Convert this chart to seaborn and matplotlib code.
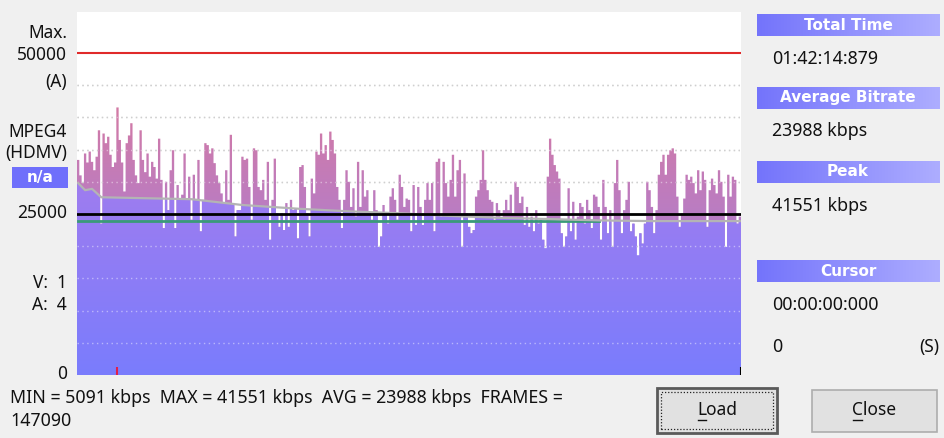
import numpy as np
import seaborn as sns
from matplotlib import pyplot as plt
from matplotlib.path import Path
from matplotlib.patches import PathPatch, Rectangle
from matplotlib.lines import Line2D
from matplotlib.colors import LinearSegmentedColormap

# bitrate per time slice (kbps / 1000), left to right
bitrate_k = [
    33.4, 31.0, 29.8, 34.4, 33.0, 34.7, 33.1, 31.8, 33.9, 38.0, 23.5, 37.5, 36.0, 37.0, 34.2, 32.3,
    33.0, 41.55, 36.5, 33.0, 28.5, 36.0, 37.2, 39.1, 33.4, 31.0, 29.8, 38.0, 33.4, 31.5, 34.4, 30.8,
    33.1, 32.3, 30.5, 36.7, 30.3, 22.8, 30.0, 25.6, 31.8, 34.9, 22.8, 29.5, 27.2, 28.0,
    34.4, 27.2, 30.8, 24.1, 31.1, 27.2, 33.4, 22.3, 27.2, 36.0, 35.7, 34.4, 35.2, 32.9, 31.0, 29.8,
    28.2, 26.7, 31.8, 27.2, 37.3, 26.7, 21.5, 25.6, 25.6, 33.9, 33.4, 33.6, 29.2, 24.1, 35.2, 34.9,
    29.2, 28.7, 30.3, 27.2, 33.1, 21.0, 27.2, 33.6, 25.1, 23.0, 25.1, 22.5, 26.7,
    23.0, 27.2, 25.6, 25.9, 21.2, 32.3, 32.6, 29.2, 25.1, 21.5, 30.5, 28.2, 34.7, 34.2, 37.5, 34.4,
    35.7, 33.4, 37.8, 36.5, 34.4, 29.2, 27.2, 22.8, 27.2, 31.8, 30.0, 26.1, 29.0, 24.6, 33.1, 26.1,
    31.8, 27.7, 28.7, 25.1, 24.1, 28.7, 25.6, 19.9, 21.5, 26.4, 25.1, 23.5, 27.7, 29.0, 27.2,
    24.1, 31.1, 29.2, 26.1, 27.4, 27.2, 22.3, 29.5, 23.3, 29.2, 26.1, 23.3, 27.2, 29.8, 27.2, 29.8,
    22.3, 33.1, 33.6, 24.6, 33.1, 29.8, 27.7, 30.3, 34.2, 27.7, 31.8, 33.4, 19.9, 31.3, 25.1, 23.0,
    22.0, 22.5, 27.7, 28.7, 30.3, 34.9, 30.3, 28.7, 27.2, 26.9, 24.1, 26.7, 25.6, 24.3, 25.6, 27.2,
    25.6, 28.0, 25.1, 30.0, 29.2, 26.7, 27.7, 23.3, 26.1, 23.0, 24.6, 22.3, 25.6, 23.5, 24.1, 21.0,
    19.7, 30.8, 36.7, 34.2, 32.6, 31.6, 30.5, 22.0, 19.9, 21.5, 29.0, 22.3, 26.9, 21.0, 24.6, 26.7,
    26.1, 23.5, 27.2, 25.6, 22.8, 28.0, 27.7, 26.1, 21.0, 30.3, 26.1, 22.0, 25.6, 19.9, 29.8, 33.4,
    28.7, 22.0, 25.6, 27.2,
    30.0, 22.3, 23.5, 21.5, 18.6, 22.0, 20.4, 23.5, 30.0, 28.7, 26.1, 22.0, 25.6, 31.1, 33.1, 34.2,
    31.1, 34.2, 34.9, 35.2, 34.4, 27.7, 23.0, 25.1, 27.4, 31.1, 30.3, 30.8, 29.8, 28.2, 31.8, 28.7,
    31.6, 30.3, 23.0, 28.7, 30.5, 29.5, 28.2, 31.8, 30.0, 27.7, 19.9, 31.1, 27.7, 30.8, 30.3, 23.5,
    24.6,
]
# running average (grey line), at slice index
run_idx = [0, 3, 6, 10, 23, 49, 71, 96, 118, 140, 161, 183, 205, 226, 248, 286]
run_k = [29.8, 28.7, 28.9, 27.6, 27.5, 27.3, 26.4, 25.8, 25.4, 25.1, 24.7, 24.4, 24.2, 24.0, 23.9, 23.9]

max_kbps = 50000
ref_kbps = 25000
avg_kbps = 23988
green_end = 225
cursor_idx = 17

left_labels = ["Max.", "50000", "(A)", "MPEG4", "(HDMV)", "25000", "V:  1", "A:  4", "0"]
left_label_y = [33, 55, 82, 132, 153, 213, 283, 305, 374]
panel_headers = ["Total Time", "Average Bitrate", "Peak", "Cursor"]
panel_header_y = [25, 98, 172, 271]
panel_values = ["01:42:14:879", "23988 kbps", "41551 kbps", "00:00:00:000", "0"]
panel_value_y = [59, 131, 206, 305, 347]
stats_line1 = "MIN = 5091 kbps  MAX = 41551 kbps  AVG = 23988 kbps  FRAMES ="
stats_line2 = "147090"

plt.rcParams['font.family'] = ['Noto Sans', 'DejaVu Sans']

W, H = 945, 438
def fx(px):
    return px / W
def fy(py):
    return 1 - py / H

vals = np.array(bitrate_k) * 1000
n = len(vals)
t = np.arange(n)
run = np.interp(t, run_idx, np.array(run_k) * 1000)

fig = plt.figure(figsize=(W / 100, H / 100), dpi=100, facecolor='#f0f0f0')
ax = fig.add_axes([fx(77), fy(375), (741 - 77) / W, (375 - 12) / H])
ax.set_facecolor('white')

# pink (full value) and purple (up to running average) layers
sns.barplot(x=t, y=vals, color='#c77fb5', width=1.0, saturation=1, linewidth=0, ax=ax)
pink_bars = list(ax.patches)
sns.barplot(x=t, y=np.minimum(vals, run), color='#8a7df8', width=1.0, saturation=1, linewidth=0, ax=ax)
purple_bars = list(ax.patches)[len(pink_bars):]


def gradient_fill(bars, c0, c1, y0, y1, z):
    paths = [b.get_path().transformed(b.get_patch_transform()) for b in bars]
    clip = PathPatch(Path.make_compound_path(*paths), transform=ax.transData, fc='none', ec='none')
    cmap = LinearSegmentedColormap.from_list('g', [c0, c1])
    grad = np.linspace(0, 1, 256).reshape(-1, 1)
    im = ax.imshow(grad, cmap=cmap, extent=[-0.5, n - 0.5, y0, y1], origin='lower',
                   aspect='auto', zorder=z, interpolation='bilinear')
    im.set_clip_path(clip)
    for b in bars:
        b.set_visible(False)


gradient_fill(pink_bars, '#b27dcc', '#d47aa4', 20000, 42000, 1)
gradient_fill(purple_bars, '#7a7dfd', '#9f7cef', 0, 30000, 2)

# dotted grid
for lev in range(5000, max_kbps, 5000):
    if lev == ref_kbps:
        continue
    ax.axhline(lev, color='#a8a8a8', lw=1, ls=(0, (1, 2.5)), zorder=0.5)
    ax.axhline(lev, color='white', lw=1, ls=(0, (1, 2.5)), alpha=0.45, zorder=3)

ax.axhline(max_kbps, color='#e02a2a', lw=1.5, zorder=4)
ax.plot([0, green_end], [avg_kbps, avg_kbps], color='#3a9a78', lw=2, zorder=4)
ax.plot(run_idx, np.array(run_k) * 1000, color='#b4b4b4', lw=1.6, zorder=4)
ax.axhline(ref_kbps, color='black', lw=2, zorder=5)
ax.vlines(cursor_idx, 0, 1200, color='#e0204a', lw=1.5, zorder=5)
ax.vlines(n - 0.5, 0, 1200, color='black', lw=1.5, zorder=5)

ax.set_xlim(-0.5, n - 0.5)
ax.set_ylim(0, 56370)
ax.set_xticks([])
ax.set_yticks([])
ax.set_xlabel('')
ax.set_ylabel('')
for s in ax.spines.values():
    s.set_visible(False)

fs = 12.5
bold = dict(family='DejaVu Sans', fontweight='bold', fontsize=11, color='white')
# left labels
for lab, py in zip(left_labels, left_label_y):
    fig.text(fx(67), fy(py), lab, ha='right', va='center', fontsize=fs, color='#111111')
fig.add_artist(Rectangle((fx(12), fy(188)), (68 - 12) / W, (188 - 167) / H,
                         transform=fig.transFigure, fc='#6f6ffb', ec='none'))
fig.text(fx(40), fy(177.5), 'n/a', ha='center', va='center', **bold)

# stats text under the chart
fig.text(fx(10), fy(398), stats_line1, ha='left', va='center', fontsize=fs + 0.3, color='#111111')
fig.text(fx(10), fy(421), stats_line2, ha='left', va='center', fontsize=fs + 0.3, color='#111111')

# right panel
hcmap = LinearSegmentedColormap.from_list('h', ['#7474fb', '#adadff'])
for lab, py in zip(panel_headers, panel_header_y):
    hax = fig.add_axes([fx(757), fy(py + 11), (940 - 757) / W, 22 / H])
    hax.imshow(np.linspace(0, 1, 64).reshape(1, -1), cmap=hcmap, aspect='auto')
    hax.set_axis_off()
    fig.text(fx(848), fy(py), lab, ha='center', va='center', **bold)
for val, py in zip(panel_values, panel_value_y):
    fig.text(fx(772), fy(py), val, ha='left', va='center', fontsize=fs + 0.3, color='#111111')
fig.text(fx(939), fy(347), '(S)', ha='right', va='center', fontsize=fs, color='#111111')

# buttons
fig.add_artist(Rectangle((fx(657), fy(433)), 120 / W, 45 / H, transform=fig.transFigure,
                         fc='#e1e1e1', ec='#5a5a5a', lw=2))
fig.add_artist(Rectangle((fx(661), fy(429)), 112 / W, 37 / H, transform=fig.transFigure,
                         fc='none', ec='#222222', lw=0.9, ls=(0, (1, 1.5))))
fig.add_artist(Rectangle((fx(812), fy(432)), 125 / W, 42 / H, transform=fig.transFigure,
                         fc='#e1e1e1', ec='#adadad', lw=1.2))
fig.text(fx(717), fy(410), 'Load', ha='center', va='center', fontsize=fs, color='#111111')
fig.text(fx(874), fy(410), 'Close', ha='center', va='center', fontsize=fs, color='#111111')
fig.add_artist(Line2D([fx(698), fx(706)], [fy(419.5), fy(419.5)], transform=fig.transFigure,
                      color='#111111', lw=1))
fig.add_artist(Line2D([fx(853), fx(862)], [fy(419.5), fy(419.5)], transform=fig.transFigure,
                      color='#111111', lw=1))

fig.savefig('out.png', dpi=100, facecolor=fig.get_facecolor())
